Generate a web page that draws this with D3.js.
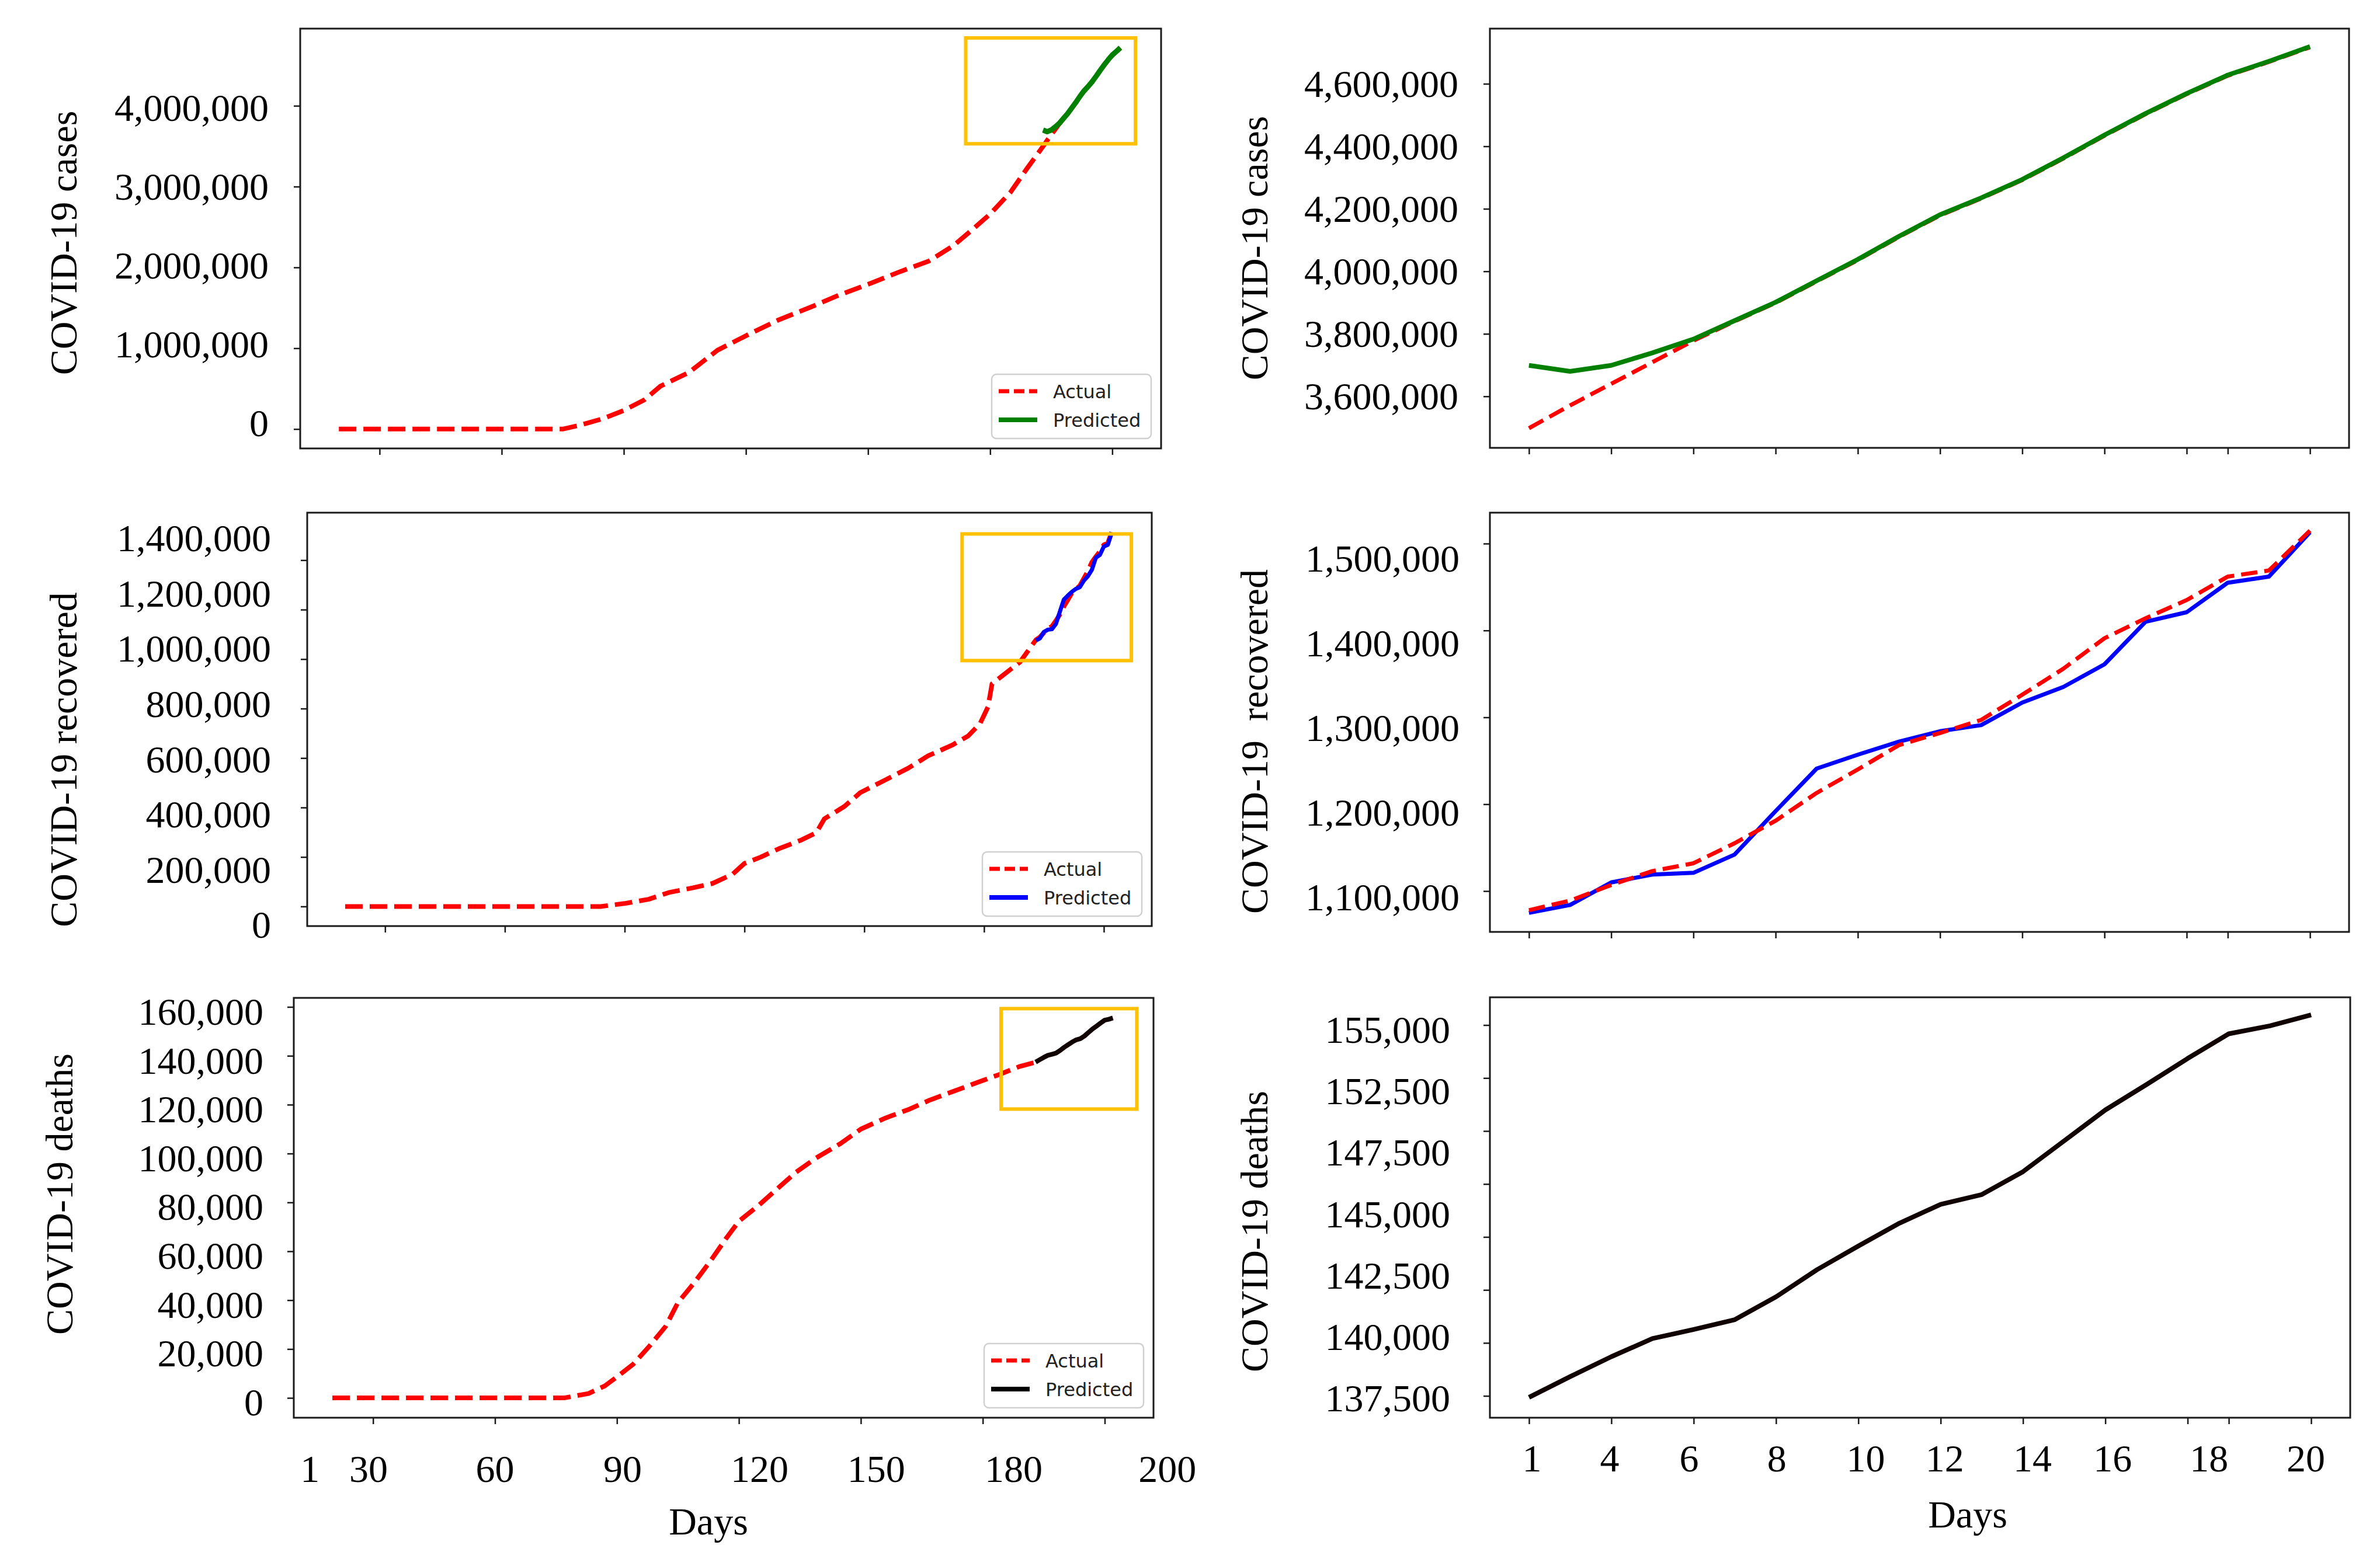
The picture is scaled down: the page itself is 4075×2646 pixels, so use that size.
<!DOCTYPE html>
<html>
<head>
<meta charset="utf-8">
<script src="https://cdn.jsdelivr.net/npm/d3@7"></script>
<style>
  body { margin: 0; background: #fff; }
  svg { display: block; }
</style>
</head>
<body>
<div id="chart"></div>
<script>
// forecast window (20 days) and where it sits on the full timeline
const forecastDays = [1, 2, 3, 4, 5, 6, 7, 8, 9, 10, 11, 12, 13, 14, 15, 16, 17, 18, 19, 20];
const windowOffset = 192;

// cases
const casesHistDays = [20, 75, 79, 85, 90, 95, 99, 106, 113, 121, 128, 136, 143, 151, 158, 165, 171, 175, 180, 185, 189];
const casesHist = [0, 0, 45000, 130000, 230000, 360000, 530000, 700000, 975000, 1180000, 1350000, 1510000,
  1660000, 1810000, 1950000, 2080000, 2270000, 2440000, 2660000, 2930000, 3220000];
const casesActualWin = [3498000, 3571000, 3640000, 3709000, 3778000, 3840000, 3899000, 3968000, 4036000, 4110000,
  4179000, 4233000, 4292000, 4361000, 4434000, 4503000, 4567000, 4626000, 4670000, 4717000];
const casesPredWin = [3699000, 3680000, 3699000, 3739000, 3783000, 3842000, 3901000, 3970000, 4038000, 4112000,
  4181000, 4235000, 4294000, 4363000, 4436000, 4505000, 4569000, 4628000, 4672000, 4719000];

// recovered
const recHistDays = [20, 84, 90, 96, 101, 107, 112, 117, 120, 124, 129, 134, 138, 140, 145, 149, 155, 161, 166, 172,
  176, 179, 181, 182, 185, 189];
const recHist = [0, 0, 12000, 29000, 56000, 75000, 93000, 130000, 174000, 199000, 236000, 267000, 298000, 354000,
  404000, 460000, 509000, 559000, 609000, 652000, 689000, 739000, 807000, 900000, 938000, 988000];
const recActualWin = [1078000, 1089000, 1107000, 1123000, 1132000, 1155000, 1181000, 1213000, 1240000, 1268000,
  1282000, 1297000, 1326000, 1356000, 1391000, 1414000, 1435000, 1462000, 1469000, 1515000];
const recPredWin = [1075000, 1084000, 1110000, 1119000, 1121000, 1142000, 1192000, 1241000, 1257000, 1272000,
  1284000, 1291000, 1317000, 1335000, 1361000, 1410000, 1421000, 1455000, 1462000, 1513000];

// deaths
const deathsHistDays = [20, 77, 83, 87, 90, 94, 98, 102, 105, 109, 113, 117, 120, 125, 130, 134, 139, 145, 150, 156,
  162, 167, 173, 179, 184, 189, 193];
const deathsHist = [0, 0, 1800, 4900, 8600, 13800, 21200, 29300, 39000, 47100, 56000, 65600, 72300, 79000, 86400,
  92300, 98200, 104100, 110000, 114500, 118200, 121900, 125600, 129300, 132300, 135600, 137400];
const deathsPredWin = [137432, 138408, 139349, 140205, 140633, 141096, 142174, 143458, 144571, 145650,
  146540, 147002, 148081, 149536, 150991, 152190, 153423, 154587, 154963, 155477];

// x ticks and the (hand placed) x tick labels
const fullXTicks = [30, 60, 90, 120, 150, 180, 210];
const fullXLabels = ['1', '30', '60', '90', '120', '150', '180', '200'];
const fullXLabelDays = [14.5, 28.9, 60.0, 91.4, 125.1, 153.8, 187.6, 225.4];
const winXTicks = [1, 3, 5, 7, 9, 11, 13, 15, 17, 18, 20];
const winXLabels = ['1', '4', '6', '8', '10', '12', '14', '16', '18', '20'];
const winXLabelDays = [1.07, 2.96, 4.89, 7.02, 9.18, 11.1, 13.23, 15.18, 17.52, 19.87];

// y ticks and y tick labels (bottom to top)
const casesFullTicks = [0, 1000000, 2000000, 3000000, 4000000];
const casesFullLabels = ['0', '1,000,000', '2,000,000', '3,000,000', '4,000,000'];
const casesWinTicks = [3600000, 3800000, 4000000, 4200000, 4400000, 4600000];
const casesWinLabels = ['3,600,000', '3,800,000', '4,000,000', '4,200,000', '4,400,000', '4,600,000'];
const recFullTicks = [0, 200000, 400000, 600000, 800000, 1000000, 1200000, 1400000];
const recFullLabels = ['0', '200,000', '400,000', '600,000', '800,000', '1,000,000', '1,200,000', '1,400,000'];
const recWinTicks = [1100000, 1200000, 1300000, 1400000, 1500000];
const recWinLabels = ['1,100,000', '1,200,000', '1,300,000', '1,400,000', '1,500,000'];
const deathsFullTicks = [0, 20000, 40000, 60000, 80000, 100000, 120000, 140000, 160000];
const deathsFullLabels = ['0', '20,000', '40,000', '60,000', '80,000', '100,000', '120,000', '140,000', '160,000'];
const deathsWinTicks = [137500, 140000, 142500, 145000, 147500, 150000, 152500, 155000];
const deathsWinLabels = ['137,500', '140,000', '142,500', '145,000', '147,500', '152,500', '155,000'];

// highlighted forecast region on the full charts: [day0, day1, value0, value1]
const casesZoomBox = [174, 215.7, 3530000, 4840000];
const recZoomBox = [174.5, 216.9, 994000, 1506000];
const deathsZoomBox = [184.5, 217.9, 118200, 159300];

const W = 4075;
const H = 2646;
const RED = '#ff0000';
const SERIF = '"Liberation Serif", "Times New Roman", serif';
const SANS = '"DejaVu Sans", sans-serif';

const winDays = forecastDays.map((d) => d + windowOffset);

const svg = d3.select('#chart')
    .append('svg')
    .attr('width', W)
    .attr('height', H)
    .attr('viewBox', `0 0 ${W} ${H}`);

svg.append('rect').attr('width', W).attr('height', H).attr('fill', '#fff');

const panels = [
  {
    box: [514, 49, 1988, 768], xDomain: [10.5, 222], yDomain: [-240000, 4955000],
    xTicks: fullXTicks, yTicks: casesFullTicks, yLabels: casesFullLabels, labelSpan: [75000, 3973000], labelGap: 54,
    title: 'COVID-19 cases', titleX: 131, titleY: 416,
    series: [
      {x: casesHistDays.concat(winDays), y: casesHist.concat(casesActualWin), color: RED, dash: '30 12', w: 8},
      {x: winDays, y: casesPredWin, color: '#008000', w: 9},
    ],
    zoomBox: casesZoomBox, legend: ['#008000'],
  },
  {
    box: [2551, 49, 4022, 767], xDomain: [0.05, 20.95], yDomain: [3435200, 4776500],
    xTicks: winXTicks, yTicks: casesWinTicks, yLabels: casesWinLabels, labelSpan: [3600000, 4600000], labelGap: 54,
    title: 'COVID-19 cases', titleX: 2170, titleY: 425,
    series: [
      {x: forecastDays, y: casesActualWin, color: RED, dash: '28 12', w: 7},
      {x: forecastDays, y: casesPredWin, color: '#008000', w: 8},
    ],
  },
  {
    box: [526, 878, 1972, 1586], xDomain: [10.5, 222], yDomain: [-79300, 1592000],
    xTicks: fullXTicks, yTicks: recFullTicks, yLabels: recFullLabels, labelSpan: [-74600, 1489000], labelGap: 62,
    title: 'COVID-19 recovered', titleX: 131, titleY: 1301,
    series: [
      {x: recHistDays.concat(winDays), y: recHist.concat(recActualWin), color: RED, dash: '30 12', w: 8},
      {x: winDays, y: recPredWin, color: '#0000ff', w: 7},
    ],
    zoomBox: recZoomBox, legend: ['#0000ff'],
  },
  {
    box: [2551, 878, 4022, 1596], xDomain: [0.05, 20.95], yDomain: [1053000, 1535600],
    xTicks: winXTicks, yTicks: recWinTicks, yLabels: recWinLabels, labelSpan: [1093000, 1482700], labelGap: 52,
    title: 'COVID-19  recovered', titleX: 2170, titleY: 1270,
    series: [
      {x: forecastDays, y: recPredWin, color: '#0000ff', w: 7},
      {x: forecastDays, y: recActualWin, color: RED, dash: '28 12', w: 7},
    ],
  },
  {
    box: [503, 1709, 1975, 2428], xDomain: [10.5, 222], yDomain: [-8100, 163700],
    xTicks: fullXTicks, yTicks: deathsFullTicks, yLabels: deathsFullLabels, labelSpan: [-1800, 158100], labelGap: 52,
    title: 'COVID-19 deaths', titleX: 124, titleY: 2045,
    series: [
      {x: deathsHistDays, y: deathsHist, color: RED, dash: '30 12', w: 8},
      {x: winDays, y: deathsPredWin, color: '#110000', w: 8},
    ],
    zoomBox: deathsZoomBox, legend: ['#000000'],
    xLabels: fullXLabels, xLabelDays: fullXLabelDays, xLabelY: 2538, daysY: 2628, daysX: 1213,
  },
  {
    box: [2551, 1708, 4024, 2428], xDomain: [0.05, 20.95], yDomain: [136470, 156310],
    xTicks: winXTicks, yTicks: deathsWinTicks, yLabels: deathsWinLabels, labelSpan: [137380, 154780], labelGap: 68,
    title: 'COVID-19 deaths', titleX: 2170, titleY: 2109,
    series: [
      {x: forecastDays, y: deathsPredWin, color: '#110000', w: 8},
    ],
    xLabels: winXLabels, xLabelDays: winXLabelDays, xLabelY: 2520, daysY: 2616, daysX: 3369,
  },
];

panels.forEach(drawPanel);

function drawPanel(p) {
  const [x0, y0, x1, y1] = p.box;
  const x = d3.scaleLinear().domain(p.xDomain).range([x0, x1]);
  const y = d3.scaleLinear().domain(p.yDomain).range([y1, y0]);

  const g = svg.append('g');

  // lines
  p.series.forEach((s) => {
    const pts = s.x.map((d, i) => [d, s.y[i]]);
    g.append('path')
        .datum(pts)
        .attr('d', d3.line().x((d) => x(d[0])).y((d) => y(d[1])))
        .attr('fill', 'none')
        .attr('stroke', s.color)
        .attr('stroke-width', s.w)
        .attr('stroke-dasharray', s.dash || null)
        .attr('stroke-linejoin', 'round');
  });

  // highlight box
  if (p.zoomBox) {
    const [a, b, c, d] = p.zoomBox;
    g.append('rect')
        .attr('x', x(a))
        .attr('y', y(d))
        .attr('width', x(b) - x(a))
        .attr('height', y(c) - y(d))
        .attr('fill', 'none')
        .attr('stroke', '#ffc000')
        .attr('stroke-width', 6);
  }

  // frame
  g.append('rect')
      .attr('x', x0).attr('y', y0)
      .attr('width', x1 - x0).attr('height', y1 - y0)
      .attr('fill', 'none')
      .attr('stroke', '#1a1a1a')
      .attr('stroke-width', 3);

  // tick marks
  const yAxis = g.append('g')
      .attr('transform', `translate(${x0},0)`)
      .call(d3.axisLeft(y).tickValues(p.yTicks).tickSize(11).tickFormat(''));
  const xAxis = g.append('g')
      .attr('transform', `translate(0,${y1})`)
      .call(d3.axisBottom(x).tickValues(p.xTicks).tickSize(11).tickFormat(''));
  [yAxis, xAxis].forEach((ax) => {
    ax.select('.domain').remove();
    ax.selectAll('line').attr('stroke', '#1a1a1a').attr('stroke-width', 2.5);
  });

  // y tick labels (placed as in the original figure)
  const lab = d3.scalePoint()
      .domain(p.yLabels)
      .range([y(p.labelSpan[0]), y(p.labelSpan[1])]);
  g.append('g')
      .selectAll('text')
      .data(p.yLabels)
      .join('text')
      .attr('x', x0 - p.labelGap)
      .attr('y', (d) => lab(d))
      .attr('dy', '0.34em')
      .attr('text-anchor', 'end')
      .attr('font-family', SERIF)
      .attr('font-size', 66)
      .attr('fill', '#000')
      .text((d) => d);

  // y title
  g.append('text')
      .attr('transform', `translate(${p.titleX},${p.titleY}) rotate(-90)`)
      .attr('text-anchor', 'middle')
      .attr('font-family', SERIF)
      .attr('font-size', 66)
      .attr('fill', '#000')
      .style('white-space', 'pre')
      .text(p.title);

  // x tick labels and title on the bottom row
  if (p.xLabels) {
    g.append('g')
        .selectAll('text')
        .data(p.xLabels)
        .join('text')
        .attr('x', (d, i) => x(p.xLabelDays[i]))
        .attr('y', p.xLabelY)
        .attr('text-anchor', 'middle')
        .attr('font-family', SERIF)
        .attr('font-size', 66)
        .attr('fill', '#000')
        .text((d) => d);
    g.append('text')
        .attr('x', p.daysX)
        .attr('y', p.daysY)
        .attr('text-anchor', 'middle')
        .attr('font-family', SERIF)
        .attr('font-size', 66)
        .attr('fill', '#000')
        .text('Days');
  }

  // legend
  if (p.legend) {
    const lw = 273;
    const lh = 110;
    const lx = x1 - 17 - lw;
    const ly = y1 - 17 - lh;
    const leg = g.append('g').attr('transform', `translate(${lx},${ly})`);
    leg.append('rect')
        .attr('width', lw).attr('height', lh)
        .attr('rx', 8)
        .attr('fill', '#fff')
        .attr('stroke', '#d0d0d0')
        .attr('stroke-width', 2.5);
    const items = [
      {name: 'Actual', color: RED, dash: '18 8', w: 7},
      {name: 'Predicted', color: p.legend[0], dash: null, w: 8},
    ];
    items.forEach((it, i) => {
      const yy = 29 + i * 49;
      leg.append('line')
          .attr('x1', 12).attr('x2', 78)
          .attr('y1', yy).attr('y2', yy)
          .attr('stroke', it.color)
          .attr('stroke-width', it.w)
          .attr('stroke-dasharray', it.dash);
      leg.append('text')
          .attr('x', 105)
          .attr('y', yy)
          .attr('dy', '0.36em')
          .attr('font-family', SANS)
          .attr('font-size', 32)
          .attr('fill', '#222')
          .text(it.name);
    });
  }
}
</script>
</body>
</html>
